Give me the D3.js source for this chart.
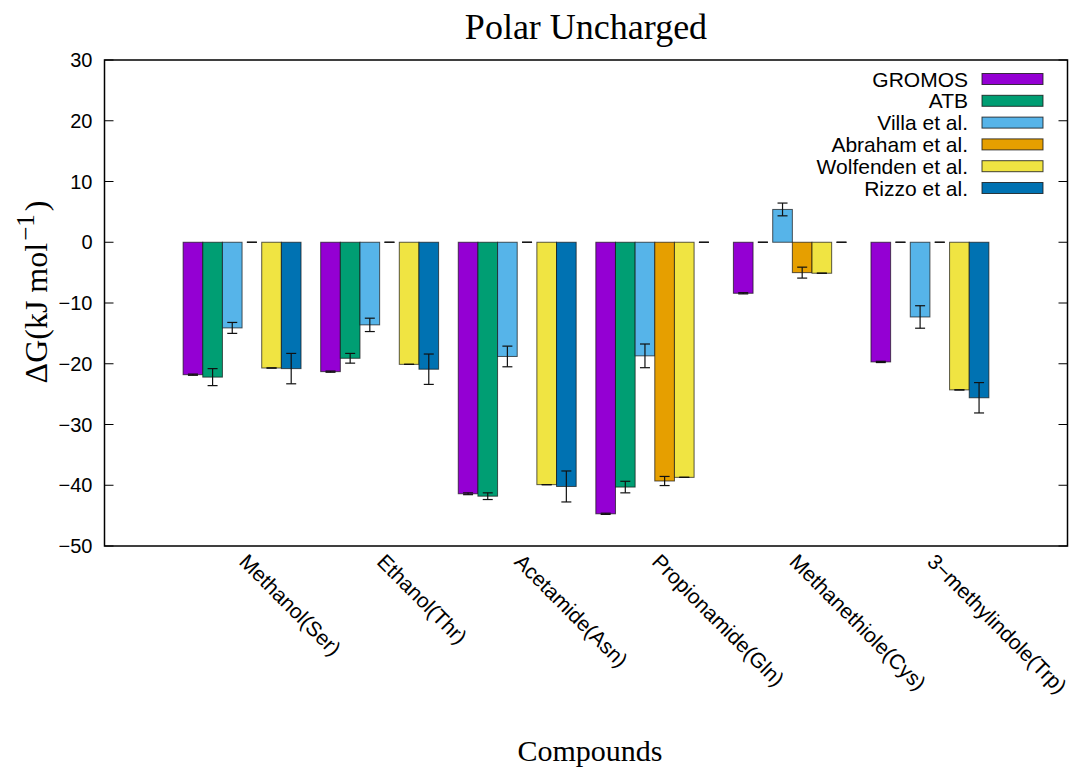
<!DOCTYPE html>
<html>
<head>
<meta charset="utf-8">
<script src="https://cdn.jsdelivr.net/npm/d3@7/dist/d3.min.js"></script>
<style>
  html, body { margin: 0; padding: 0; background: #fff; }
  svg { display: block; }
</style>
</head>
<body>
<svg id="chart" width="1070" height="770"></svg>
<script>
// Hydration free energies of polar uncharged side-chain analogues
const compounds = ["Methanol(Ser)", "Ethanol(Thr)", "Acetamide(Asn)",
                   "Propionamide(Gln)", "Methanethiole(Cys)", "3\u2212methylindole(Trp)"];
const seriesNames = ["GROMOS", "ATB", "Villa et al.", "Abraham et al.", "Wolfenden et al.", "Rizzo et al."];
const seriesColors = ["#9400d3", "#009e73", "#56b4e9", "#e69f00", "#f0e442", "#0072b2"];

// values per series (kJ/mol), 0 where no value is reported
const gromos    = [-21.8, -21.3, -41.4, -44.7, -8.4, -19.7];
const atb       = [-22.2, -19.1, -41.8, -40.3,  0.0,   0.0];
const villa     = [-14.1, -13.6, -18.8, -18.7,  5.4, -12.3];
const abraham   = [  0.0,   0.0,   0.0, -39.3, -5.0,   0.0];
const wolfenden = [-20.7, -20.1, -39.9, -38.7, -5.1, -24.3];
const rizzo     = [-20.8, -20.9, -40.2,   0.0,  0.0, -25.6];

// standard errors
const gromosErr    = [0.1, 0.1, 0.15, 0.1, 0.1, 0.1];
const atbErr       = [1.4, 0.8, 0.55, 0.95, 0, 0];
const villaErr     = [0.9, 1.1, 1.7, 1.95, 1.05, 1.85];
const abrahamErr   = [0, 0, 0, 0.75, 0.9, 0];
const wolfendenErr = [0, 0, 0, 0, 0, 0];
const rizzoErr     = [2.5, 2.5, 2.55, 0, 0, 2.5];

const yTicks = [30, 20, 10, 0, -10, -20, -30, -40, -50];

const values = [gromos, atb, villa, abraham, wolfenden, rizzo];
const errors = [gromosErr, atbErr, villaErr, abrahamErr, wolfendenErr, rizzoErr];

const svg = d3.select("#chart");
const plot = { left: 104.5, right: 1067.5, top: 60, bottom: 546 };

const x = d3.scaleLinear().domain([-1, 6]).range([plot.left, plot.right]);
const y = d3.scaleLinear().domain([-50, 30]).range([plot.bottom, plot.top]);

// each cluster spans 6 bars plus a one-bar gap
const nSeries = seriesNames.length;
const slot = 1 / (nSeries + 1);
const barX = (i, s) => x(i - 0.5 + slot / 2 + s * slot);

const sansFont = "'Liberation Sans', Arial, sans-serif";
const serifFont = "'Liberation Serif', 'Times New Roman', serif";

// bars
const barData = [];
values.forEach((arr, s) => arr.forEach((v, i) => barData.push({ s, i, v, e: errors[s][i] })));

svg.append("g").selectAll("rect")
  .data(barData.filter(d => d.v !== 0))
  .join("rect")
  .attr("x", d => barX(d.i, d.s))
  .attr("width", d => barX(d.i, d.s + 1) - barX(d.i, d.s))
  .attr("y", d => Math.min(y(d.v), y(0)))
  .attr("height", d => Math.abs(y(d.v) - y(0)))
  .attr("fill", d => seriesColors[d.s])
  .attr("stroke", "rgba(20,20,20,0.7)")
  .attr("stroke-width", 1);

// error bars
const capHalf = 5;
const eg = svg.append("g").attr("stroke", "#111").attr("stroke-width", 1.2).attr("fill", "none");
barData.forEach(d => {
  const cx = (barX(d.i, d.s) + barX(d.i, d.s + 1)) / 2;
  const lo = y(d.v - d.e), hi = y(d.v + d.e);
  if (d.e > 0) {
    eg.append("line").attr("x1", cx).attr("x2", cx).attr("y1", lo).attr("y2", hi);
  }
  eg.append("line").attr("x1", cx - capHalf).attr("x2", cx + capHalf).attr("y1", lo).attr("y2", lo);
  eg.append("line").attr("x1", cx - capHalf).attr("x2", cx + capHalf).attr("y1", hi).attr("y2", hi);
});

// y axis ticks on both sides
const tickLen = 9;
const tg = svg.append("g").attr("stroke", "#000").attr("stroke-width", 1);
yTicks.forEach(t => {
  tg.append("line").attr("x1", plot.left).attr("x2", plot.left + tickLen).attr("y1", y(t)).attr("y2", y(t));
  tg.append("line").attr("x1", plot.right).attr("x2", plot.right - tickLen).attr("y1", y(t)).attr("y2", y(t));
});
svg.append("g").selectAll("text")
  .data(yTicks)
  .join("text")
  .attr("x", plot.left - 12)
  .attr("y", d => y(d))
  .attr("dy", "0.36em")
  .attr("text-anchor", "end")
  .attr("font-family", sansFont)
  .attr("font-size", 20)
  .text(d => d < 0 ? "\u2212" + Math.abs(d) : d);

// frame
svg.append("rect")
  .attr("x", plot.left).attr("y", plot.top)
  .attr("width", plot.right - plot.left).attr("height", plot.bottom - plot.top)
  .attr("fill", "none").attr("stroke", "#000").attr("stroke-width", 1.5);

// rotated category labels
svg.append("g").selectAll("text")
  .data(compounds)
  .join("text")
  .attr("transform", (d, i) => `translate(${x(i) - 4},${plot.bottom + 17}) rotate(45)`)
  .attr("font-family", sansFont)
  .attr("font-size", 21)
  .text(d => d);

// legend
const lg = svg.append("g");
seriesNames.forEach((name, s) => {
  const cy = 79 + s * 21.8;
  lg.append("text")
    .attr("x", 968).attr("y", cy).attr("dy", "0.36em")
    .attr("text-anchor", "end")
    .attr("font-family", sansFont).attr("font-size", 21)
    .text(name);
  lg.append("rect")
    .attr("x", 982).attr("y", cy - 5.5).attr("width", 61).attr("height", 11)
    .attr("fill", seriesColors[s])
    .attr("stroke", "rgba(20,20,20,0.8)").attr("stroke-width", 1);
});

// title and axis titles
svg.append("text")
  .attr("x", 586).attr("y", 39)
  .attr("text-anchor", "middle")
  .attr("font-family", serifFont).attr("font-size", 36)
  .text("Polar Uncharged");

svg.append("text")
  .attr("x", 590).attr("y", 761)
  .attr("text-anchor", "middle")
  .attr("font-family", serifFont).attr("font-size", 30)
  .text("Compounds");

const yl = svg.append("text")
  .attr("transform", `translate(47,292) rotate(-90)`)
  .attr("text-anchor", "middle")
  .attr("font-family", serifFont).attr("font-size", 32);
yl.append("tspan").text("\u0394G(kJ mol");
yl.append("tspan").attr("dx", 2).attr("dy", -13).attr("font-size", 25).text("\u22121");
yl.append("tspan").attr("dx", 3).attr("dy", 13).text(")");
</script>
</body>
</html>
